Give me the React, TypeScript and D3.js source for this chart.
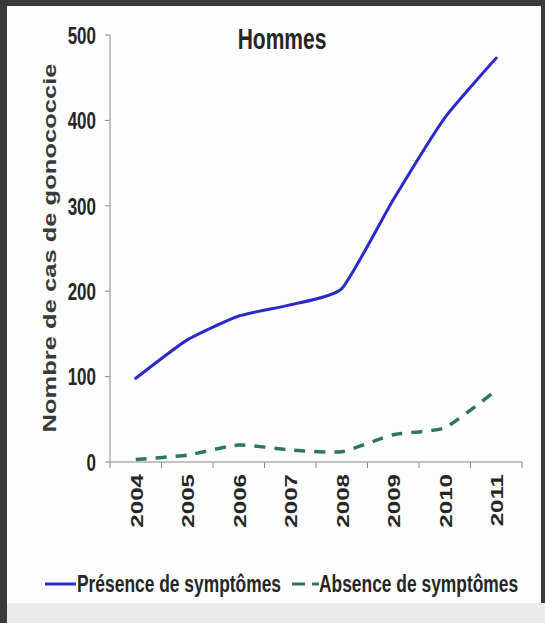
import { useEffect, useRef } from 'react';
import * as d3 from 'd3';

const years = ['2004', '2005', '2006', '2007', '2008', '2009', '2010', '2011'];
const presence = [98, 143, 171, 184, 203, 307, 403, 473];
const absence = [3, 8, 20, 14, 12, 32, 40, 84];
const yTicks = [0, 100, 200, 300, 400, 500];

const FONT = "'Liberation Sans', Arial, sans-serif";
const STRETCH = 1.42;

export default function App() {
  const svgRef = useRef<SVGSVGElement>(null);

  useEffect(() => {
    if (!svgRef.current) return;
    const svg = d3.select(svgRef.current);
    svg.selectAll('*').remove();

    const W = 545;
    const H = 623;
    svg.attr('width', W).attr('height', H);

    // frame
    svg.append('rect').attr('width', W).attr('height', H).attr('fill', '#3a3a3a');
    svg.append('rect').attr('x', 7).attr('y', 603).attr('width', W - 7).attr('height', 20).attr('fill', '#ebebeb');
    svg.append('rect').attr('x', 7).attr('y', 6).attr('width', 534).attr('height', 597).attr('fill', '#fdfdfd');

    const x = d3.scaleBand().domain(years).range([110, 522]);
    const y = d3.scaleLinear().domain([0, 500]).range([462, 35]);
    const cx = (d: string) => (x(d) as number) + x.bandwidth() / 2;

    // stretched text helper
    const label = (
      tx: number,
      ty: number,
      text: string,
      size: number,
      anchor: string,
      rotate = 0,
      weight = 'bold',
      dy = '0',
      fill = '#262626'
    ) =>
      svg
        .append('text')
        .attr('transform', `translate(${tx},${ty}) scale(1,${STRETCH}) rotate(${rotate})`)
        .attr('text-anchor', anchor)
        .attr('dy', dy)
        .attr('font-family', FONT)
        .attr('font-weight', weight)
        .attr('font-size', size)
        .attr('fill', fill)
        .text(text);

    // y axis
    const yAxis = svg.append('g');
    yAxis
      .append('line')
      .attr('x1', 110)
      .attr('x2', 110)
      .attr('y1', y(500))
      .attr('y2', y(0))
      .attr('stroke', '#8a8a8a');
    yTicks.forEach((t) => {
      yAxis
        .append('line')
        .attr('x1', 105)
        .attr('x2', 110)
        .attr('y1', y(t))
        .attr('y2', y(t))
        .attr('stroke', '#8a8a8a');
      label(96, y(t), String(t), 17, 'end', 0, 'bold', '0.36em');
    });

    // x axis
    svg
      .append('line')
      .attr('x1', 110)
      .attr('x2', 522)
      .attr('y1', y(0))
      .attr('y2', y(0))
      .attr('stroke', '#8a8a8a');
    [...years.map((d) => x(d) as number), 522].forEach((px) => {
      svg
        .append('line')
        .attr('x1', px)
        .attr('x2', px)
        .attr('y1', y(0))
        .attr('y2', y(0) + 6)
        .attr('stroke', '#8a8a8a');
    });
    years.forEach((d) => {
      label(cx(d) + 1, 474, d, 17, 'end', -90, 'bold', '0.36em');
    });

    // titles
    label(282, 49, 'Hommes', 21, 'middle');
    label(50, 248, 'Nombre de cas de gonococcie', 18, 'middle', -90, 'bold', '0.36em', '#3a3a3a');

    // lines
    const line = d3
      .line<number>()
      .x((_, i) => cx(years[i]))
      .y((d) => y(d))
      .curve(d3.curveCardinal.tension(0.5));

    svg
      .append('path')
      .datum(absence)
      .attr('fill', 'none')
      .attr('stroke', '#2f7563')
      .attr('stroke-width', 3.5)
      .attr('stroke-dasharray', '11 9')
      .attr('d', line);

    svg
      .append('path')
      .datum(presence)
      .attr('fill', 'none')
      .attr('stroke', '#2a2acb')
      .attr('stroke-width', 3)
      .attr('stroke-linecap', 'round')
      .attr('d', line);

    // legend
    svg
      .append('line')
      .attr('x1', 45)
      .attr('x2', 76)
      .attr('y1', 584)
      .attr('y2', 584)
      .attr('stroke', '#2a2acb')
      .attr('stroke-width', 3);
    label(77, 592, 'Présence de symptômes', 17.4, 'start');
    svg
      .append('line')
      .attr('x1', 292)
      .attr('x2', 319)
      .attr('y1', 584)
      .attr('y2', 584)
      .attr('stroke', '#2f7563')
      .attr('stroke-width', 3)
      .attr('stroke-dasharray', '13 7');
    label(319, 592, 'Absence de symptômes', 17.4, 'start');
  }, []);

  return <svg ref={svgRef} style={{ position: 'absolute', left: 0, top: 0, display: 'block' }} />;
}
